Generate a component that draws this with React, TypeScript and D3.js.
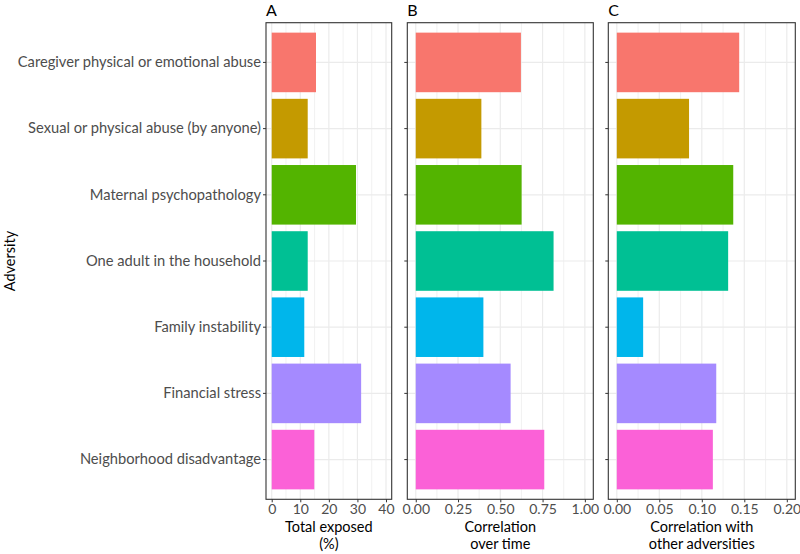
import React, { useRef, useEffect } from 'react';
import * as d3 from 'd3';

const categories = [
  'Caregiver physical or emotional abuse',
  'Sexual or physical abuse (by anyone)',
  'Maternal psychopathology',
  'One adult in the household',
  'Family instability',
  'Financial stress',
  'Neighborhood disadvantage',
];
const barColors = ['#F8766D', '#C49A00', '#53B400', '#00C094', '#00B6EB', '#A58AFF', '#FB61D7'];

const totalExposed = [15.5, 12.6, 29.5, 12.6, 11.4, 31.3, 14.9];
const corrOverTime = [0.622, 0.388, 0.626, 0.815, 0.4, 0.561, 0.76];
const corrOther = [0.144, 0.085, 0.137, 0.131, 0.031, 0.117, 0.113];

const ticksA = [0, 10, 20, 30, 40];
const ticksB = [0, 0.25, 0.5, 0.75, 1];
const ticksC = [0, 0.05, 0.1, 0.15, 0.2];

const panelLetters = ['A', 'B', 'C'];
const axisTitles = [['Total exposed', '(%)'], ['Correlation', 'over time'], ['Correlation with', 'other adversities']];

const W = 800;
const H = 554;
const top = 22.7;
const bottom = 499.3;
const font = 'Lato, "Open Sans", sans-serif';

const panels = [
  { values: totalExposed, ticks: ticksA, fmt: d3.format('d'), left: 266, right: 391.7, letter: panelLetters[0], title: axisTitles[0] },
  { values: corrOverTime, ticks: ticksB, fmt: d3.format('.2f'), left: 407.3, right: 593.3, letter: panelLetters[1], title: axisTitles[1] },
  { values: corrOther, ticks: ticksC, fmt: d3.format('.2f'), left: 608.3, right: 795.3, letter: panelLetters[2], title: axisTitles[2] },
];

const App = () => {
  const svgRef = useRef<SVGSVGElement>(null);

  useEffect(() => {
    const svg = d3.select(svgRef.current);
    svg.selectAll('*').remove();

    const y = d3.scaleBand().domain(categories).range([top, bottom]).paddingInner(0.1).paddingOuter(0.15);

    panels.forEach((p, pi) => {
      const lo = p.ticks[0];
      const hi = p.ticks[p.ticks.length - 1];
      const pad = (hi - lo) * 0.05;
      const x = d3.scaleLinear().domain([lo - pad, hi + pad]).range([p.left, p.right]);
      const step = p.ticks[1] - p.ticks[0];
      const minor = p.ticks.slice(0, -1).map(t => t + step / 2);

      const g = svg.append('g');

      g.append('rect').attr('x', p.left).attr('y', top).attr('width', p.right - p.left).attr('height', bottom - top).attr('fill', 'white');

      // grid
      g.selectAll('.minor').data(minor).join('line')
        .attr('x1', d => x(d)).attr('x2', d => x(d)).attr('y1', top).attr('y2', bottom)
        .attr('stroke', '#EBEBEB').attr('stroke-width', 0.7);
      g.selectAll('.major').data(p.ticks).join('line')
        .attr('x1', d => x(d)).attr('x2', d => x(d)).attr('y1', top).attr('y2', bottom)
        .attr('stroke', '#EBEBEB').attr('stroke-width', 1.2);
      g.selectAll('.hgrid').data(categories).join('line')
        .attr('x1', p.left).attr('x2', p.right)
        .attr('y1', d => y(d)! + y.bandwidth() / 2).attr('y2', d => y(d)! + y.bandwidth() / 2)
        .attr('stroke', '#EBEBEB').attr('stroke-width', 1.2);

      // bars
      g.selectAll('.bar').data(p.values).join('rect')
        .attr('x', x(0))
        .attr('y', (_, i) => y(categories[i])!)
        .attr('width', d => x(d) - x(0))
        .attr('height', y.bandwidth())
        .attr('fill', (_, i) => barColors[i]);

      // border
      g.append('rect').attr('x', p.left).attr('y', top).attr('width', p.right - p.left).attr('height', bottom - top)
        .attr('fill', 'none').attr('stroke', '#333333').attr('stroke-width', 1.1);

      // x axis
      const xAxis = d3.axisBottom(x).tickValues(p.ticks).tickFormat(p.fmt as any).tickSize(3).tickPadding(2);
      const ax = g.append('g').attr('transform', `translate(0,${bottom})`).call(xAxis);
      ax.select('.domain').remove();
      ax.selectAll('line').attr('stroke', '#333333');
      ax.selectAll('text').attr('fill', '#4D4D4D').style('font-family', font).style('font-size', '14px');

      // y axis
      const yAxis = d3.axisLeft(y).tickSize(3).tickPadding(2).tickFormat(pi === 0 ? (d => d as string) : () => '');
      const ay = g.append('g').attr('transform', `translate(${p.left},0)`).call(yAxis);
      ay.select('.domain').remove();
      ay.selectAll('line').attr('stroke', '#333333');
      ay.selectAll('text').attr('fill', '#4D4D4D').style('font-family', font).style('font-size', '14.7px');

      // panel letter
      g.append('text').attr('x', p.left).attr('y', 16).text(p.letter)
        .style('font-family', font).style('font-size', '16px').attr('fill', 'black');

      // axis title
      const cx = (p.left + p.right) / 2;
      p.title.forEach((t, li) => {
        g.append('text').attr('x', cx).attr('y', 532 + li * 16.5).attr('text-anchor', 'middle').text(t)
          .style('font-family', font).style('font-size', '14.5px').attr('fill', 'black');
      });
    });

    svg.append('text')
      .attr('transform', `translate(14.5,${(top + bottom) / 2}) rotate(-90)`)
      .attr('text-anchor', 'middle').text('Adversity')
      .style('font-family', font).style('font-size', '14.5px').attr('fill', 'black');
  }, []);

  return (
    <svg ref={svgRef} width={W} height={H} style={{ position: 'absolute', left: 0, top: 0, background: 'white' }} />
  );
};

export default App;
